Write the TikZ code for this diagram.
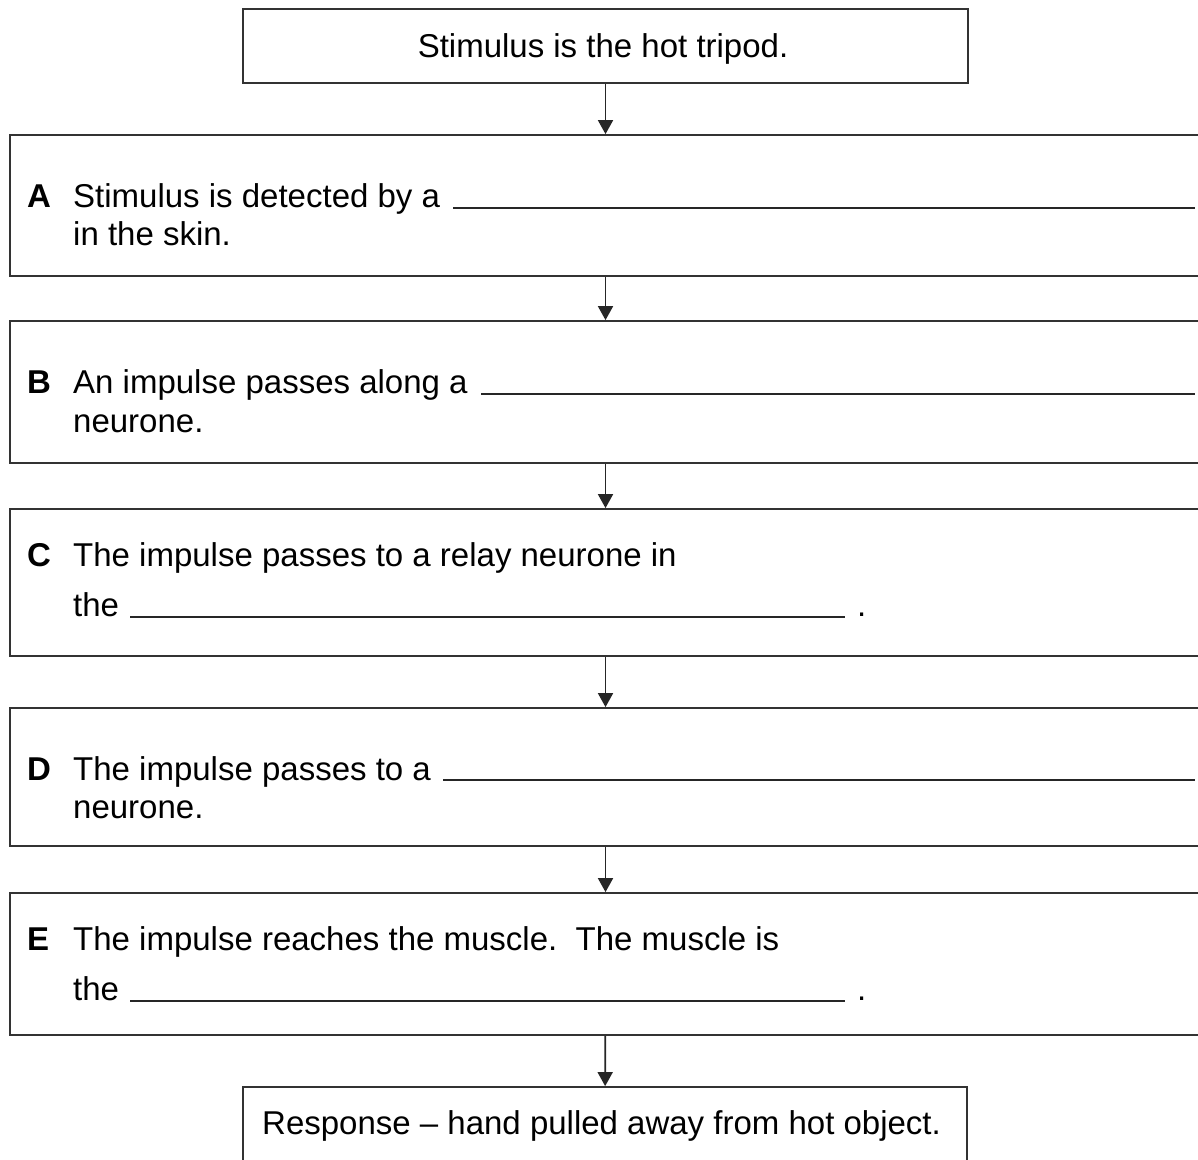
\documentclass[tikz,border=0pt]{standalone}
\usepackage{fontspec}
\setmainfont{Liberation Sans}
\usetikzlibrary{arrows.meta}
\begin{document}
\begin{tikzpicture}[x=1pt,y=-1pt,
  box/.style={draw=black!80,line width=1.8pt,inner sep=0pt,rectangle},
  wide/.style={box,minimum width=1191pt},
  txt/.style={anchor=base west,inner sep=0pt,font=\fontsize{33}{39}\selectfont},
  lbl/.style={txt,font=\fontsize{33}{39}\selectfont\bfseries},
  blank/.style={draw=black!85,line width=1.5pt},
  arr/.style={draw=black!85,line width=1.8pt,-{Triangle[width=15pt,length=14pt]}}]
\clip (0,0) rectangle (1198,1159);
\fill[white] (0,0) rectangle (1198,1159);
% boxes
\node[box,minimum width=725pt,minimum height=74pt] (top) at (605.5,46) {};
\node[wide,minimum height=141pt] (bA) at (605.5,205.5) {};
\node[wide,minimum height=142pt] (bB) at (605.5,392) {};
\node[wide,minimum height=147pt] (bC) at (605.5,582.5) {};
\node[wide,minimum height=138pt] (bD) at (605.5,777) {};
\node[wide,minimum height=142pt] (bE) at (605.5,964) {};
\node[box,minimum width=724pt,minimum height=90pt] (resp) at (605,1132) {};
% arrows
\draw[arr] (top) -- (bA);
\draw[arr] (bA) -- (bB);
\draw[arr] (bB) -- (bC);
\draw[arr] (bC) -- (bD);
\draw[arr] (bD) -- (bE);
\draw[arr] (bE) -- (resp);
% texts
\node[txt,anchor=base] (ttop) at (603,57) {Stimulus is the hot tripod.};
\node[lbl] (lA) at (27,207) {A};
\node[txt] (tA1) at (73,207) {Stimulus is detected by a};
\node[txt] (tA2) at (73,245) {in the skin.};
\draw[blank] (453,208) -- (1195,208);
\node[lbl] (lB) at (27,393) {B};
\node[txt] (tB1) at (73,393) {An impulse passes along a};
\node[txt] (tB2) at (73,432) {neurone.};
\draw[blank] (481,394) -- (1195,394);
\node[lbl] (lC) at (27,566) {C};
\node[txt] (tC1) at (73,566) {The impulse passes to a relay neurone in};
\node[txt] (tC2) at (73,616) {the};
\draw[blank] (130,617) -- (845,617);
\node[txt] (tC3) at (857,616) {.};
\node[lbl] (lD) at (27,780) {D};
\node[txt] (tD1) at (73,780) {The impulse passes to a};
\node[txt] (tD2) at (73,818) {neurone.};
\draw[blank] (443,780) -- (1195,780);
\node[lbl] (lE) at (27,950) {E};
\node[txt] (tE1) at (73,950) {The impulse reaches the muscle.\ \ The muscle is};
\node[txt] (tE2) at (73,1000) {the};
\draw[blank] (130,1001) -- (845,1001);
\node[txt] (tE3) at (857,1000) {.};
\node[txt] (tR) at (262,1134) {Response -- hand pulled away from hot object.};
\end{tikzpicture}
\end{document}
